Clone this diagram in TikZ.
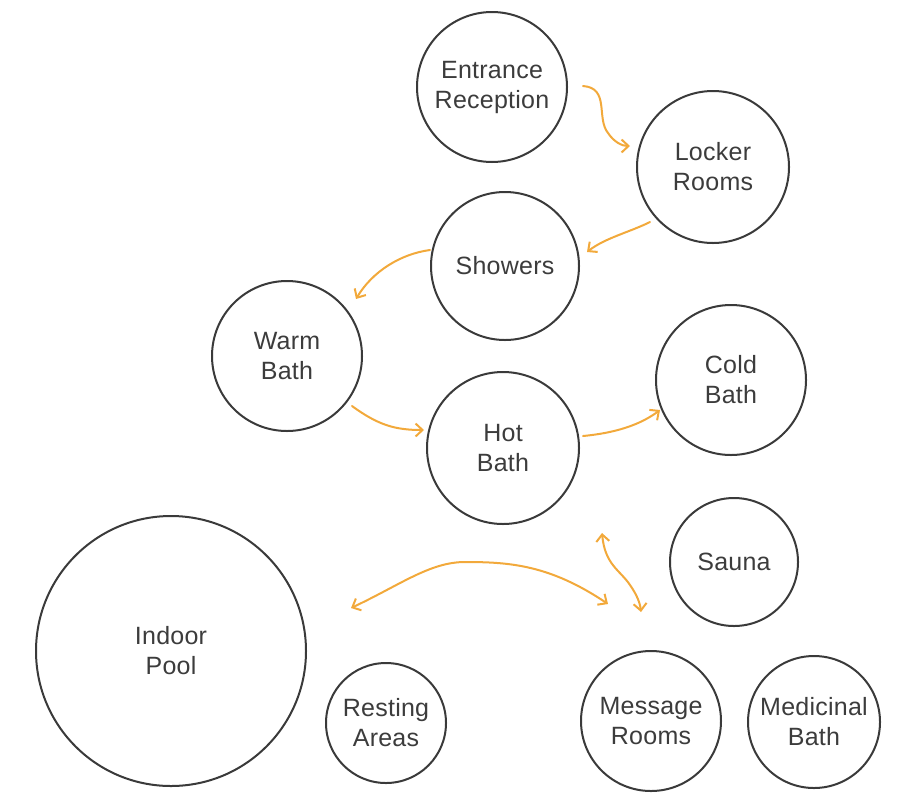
\documentclass[tikz,border=0pt]{standalone}
\usepackage{fontspec}
\setmainfont{Liberation Sans}[LetterSpace=1]
\usetikzlibrary{arrows.meta}
\definecolor{ink}{HTML}{3A3A3A}
\definecolor{txt}{HTML}{3C3C3C}
\definecolor{flow}{HTML}{F2A93B}
\begin{document}
\begin{tikzpicture}[x=1pt,y=-1pt,
  room/.style={circle,draw=ink,line width=2pt,minimum size=#1,inner sep=0pt,align=center,
    font=\fontsize{25}{30}\selectfont,text=txt},
  flowline/.style={draw=flow,line width=2pt,line cap=round,-{Straight Barb[length=7pt,width=13pt]}},
  flowboth/.style={draw=flow,line width=2pt,line cap=round,{Straight Barb[length=7pt,width=13pt]}-{Straight Barb[length=7pt,width=13pt]}}]
\useasboundingbox (0,0) rectangle (912,793);
\node[room=150pt] (ent) at (492,87) {Entrance\\Reception};
\node[room=152pt] (lock) at (713,167) {Locker\\Rooms};
\node[room=148pt] (show) at (505,266) {Showers};
\node[room=150pt] (warm) at (287,356) {Warm\\Bath};
\node[room=152pt] (hot) at (503,448) {Hot\\Bath};
\node[room=150pt] (cold) at (731,380) {Cold\\Bath};
\node[room=128pt] (sauna) at (734,562) {Sauna};
\node[room=270pt] (pool) at (171,651) {Indoor\\Pool};
\node[room=120pt] (rest) at (386,723) {Resting\\Areas};
\node[room=140pt] (mess) at (651,721) {Message\\Rooms};
\node[room=132pt] (med) at (814,722) {Medicinal\\Bath};
\coordinate (a1s) at (583,86);
\coordinate (a1e) at (630,146);
\coordinate (a2s) at (650,222);
\coordinate (a2e) at (587,252);
\coordinate (a3s) at (430,250);
\coordinate (a3e) at (356,299);
\coordinate (a4s) at (352,406);
\coordinate (a4e) at (424,430);
\coordinate (a5s) at (583,436);
\coordinate (a5e) at (660,410);
\coordinate (a6s) at (351,608);
\coordinate (a6e) at (608,604);
\coordinate (a7s) at (602,533);
\coordinate (a7e) at (641,612);
\draw[flowline] (a1s) .. controls (610,88) and (596,118) .. (608,133) .. controls (614,142) and (622,146) .. (a1e);
\draw[flowline] (a2s) .. controls (630,232) and (605,238) .. (a2e);
\draw[flowline] (a3s) .. controls (400,254) and (372,272) .. (a3e);
\draw[flowline] (a4s) .. controls (378,425) and (395,430) .. (a4e);
\draw[flowline] (a5s) .. controls (615,433) and (640,425) .. (a5e);
\draw[flowboth] (a6s) .. controls (400,585) and (430,562) .. (465,562) .. controls (510,562) and (550,565) .. (a6e);
\draw[flowboth] (a7s) .. controls (605,565) and (620,570) .. (630,585) .. controls (637,595) and (640,603) .. (a7e);
\end{tikzpicture}
\end{document}
